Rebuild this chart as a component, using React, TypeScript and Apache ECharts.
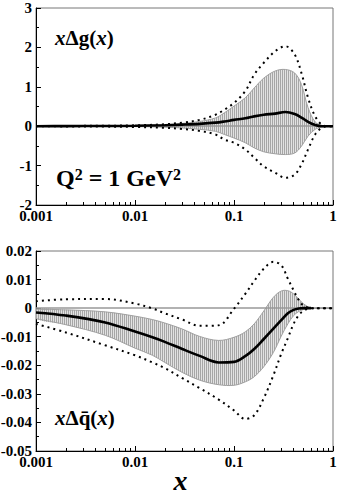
import React, { useEffect, useRef } from 'react';
import * as echarts from 'echarts';

// ---- axis ticks ----
const xTickLabels = ['0.001', '0.01', '0.1', '1'];
const xMinorTicks = [
  0.002, 0.003, 0.004, 0.005, 0.006, 0.007, 0.008, 0.009,
  0.02, 0.03, 0.04, 0.05, 0.06, 0.07, 0.08, 0.09,
  0.2, 0.3, 0.4, 0.5, 0.6, 0.7, 0.8, 0.9,
];

// ---- top panel: x Δg(x) ----
const gX = [0.001, 0.002, 0.005, 0.01, 0.02, 0.03, 0.045, 0.065, 0.08, 0.1, 0.13, 0.16, 0.2, 0.26, 0.33, 0.41, 0.48, 0.56, 0.66, 0.77, 0.9, 1];
const gCentral = [0, 0.002, 0.005, 0.01, 0.025, 0.04, 0.06, 0.09, 0.12, 0.16, 0.2, 0.25, 0.29, 0.32, 0.36, 0.31, 0.22, 0.11, 0.03, 0, 0, 0];
const gBandUp = [0.002, 0.004, 0.008, 0.015, 0.04, 0.07, 0.12, 0.21, 0.34, 0.51, 0.72, 0.97, 1.22, 1.4, 1.44, 1.35, 1.06, 0.47, 0.11, 0.02, 0, 0];
const gBandLo = [-0.002, -0.003, -0.006, -0.01, -0.025, -0.045, -0.08, -0.13, -0.21, -0.3, -0.42, -0.55, -0.65, -0.7, -0.72, -0.68, -0.51, -0.25, -0.08, -0.02, 0, 0];
const gDotUp = [0.003, 0.006, 0.012, 0.022, 0.05, 0.09, 0.16, 0.29, 0.42, 0.59, 0.89, 1.31, 1.61, 1.9, 2.03, 1.82, 1.35, 0.72, 0.25, 0.04, 0, 0];
const gDotLo = [-0.003, -0.005, -0.01, -0.02, -0.04, -0.07, -0.12, -0.21, -0.34, -0.42, -0.59, -0.8, -1.02, -1.18, -1.31, -1.23, -0.97, -0.59, -0.21, -0.04, 0, 0];

// ---- bottom panel: x Δq̄(x) ----
const qX = [0.001, 0.002, 0.005, 0.01, 0.015, 0.02, 0.03, 0.045, 0.07, 0.1, 0.13, 0.16, 0.2, 0.25, 0.3, 0.35, 0.4, 0.45, 0.5, 0.6, 0.7, 1];
const qCentral = [-0.0015, -0.0026, -0.005, -0.0082, -0.0102, -0.0118, -0.0143, -0.0167, -0.019, -0.0188, -0.0168, -0.0143, -0.0108, -0.0072, -0.0042, -0.0018, -0.0006, -0.0001, 0, 0, null, null];
const qBandUp = [-0.0004, -0.0006, -0.0013, -0.0028, -0.004, -0.0052, -0.0073, -0.0099, -0.0113, -0.0102, -0.0083, -0.0055, -0.001, 0.0038, 0.006, 0.0061, 0.005, 0.0032, 0.0016, 0, 0, 0];
const qBandLo = [-0.0037, -0.0058, -0.0095, -0.014, -0.0165, -0.019, -0.0225, -0.0252, -0.0268, -0.027, -0.0258, -0.024, -0.0205, -0.0155, -0.0098, -0.0055, -0.0026, -0.0012, -0.0005, 0, 0, 0];
const qDotUp = [0.0024, 0.0031, 0.0032, 0.0016, -0.0001, -0.0018, -0.004, -0.0062, -0.006, -0.0002, 0.005, 0.0095, 0.0138, 0.0162, 0.015, 0.0103, 0.0062, 0.0029, 0.001, 0, 0, 0];
const qDotLo = [-0.0055, -0.0085, -0.013, -0.0165, -0.019, -0.021, -0.0245, -0.028, -0.032, -0.0358, -0.0388, -0.0375, -0.0315, -0.0235, -0.016, -0.0105, -0.0055, -0.0025, -0.001, 0, 0, 0];

const FONT = "'Liberation Serif', 'Times New Roman', serif";
const SMOOTH = 0.35;

function makeHatch(): any {
  const c = document.createElement('canvas');
  c.width = 2;
  c.height = 2;
  const ctx = c.getContext('2d')!;
  ctx.fillStyle = '#e2e2e2';
  ctx.fillRect(0, 0, 2, 2);
  ctx.fillStyle = '#a6a6a6';
  ctx.fillRect(0, 0, 1, 2);
  return { image: c, repeat: 'repeat', imageWidth: 2, imageHeight: 2 };
}

function bandSeries(xs: number[], up: number[], lo: number[], idx: number, hatch: any) {
  return {
    type: 'custom',
    xAxisIndex: idx * 2,
    yAxisIndex: idx,
    clip: true,
    silent: true,
    z: 1,
    data: [[xs[1], lo[1]]],
    renderItem: (_params: any, api: any) => {
      const top = xs.map((x, i) => api.coord([x, up[i]]));
      const bot = xs.map((x, i) => api.coord([x, lo[i]]));
      const edge = { stroke: '#a0a0a0', lineWidth: 1, fill: null };
      return {
        type: 'group',
        children: [
          { type: 'polygon', shape: { points: top.concat(bot.slice().reverse()), smooth: SMOOTH }, style: { fill: hatch } },
          { type: 'polyline', shape: { points: top, smooth: SMOOTH }, style: edge },
          { type: 'polyline', shape: { points: bot, smooth: SMOOTH }, style: edge },
        ],
      };
    },
  };
}

function lineSeries(xs: number[], ys: (number | null)[], idx: number, dotted: boolean, zeroLine = false) {
  const s: any = {
    type: 'line',
    xAxisIndex: idx * 2,
    yAxisIndex: idx,
    data: xs.map((x, i) => [x, ys[i]]),
    showSymbol: false,
    smooth: SMOOTH,
    silent: true,
    z: dotted ? 4 : 5,
    lineStyle: dotted
      ? { color: '#000', width: 2, type: [2, 4], cap: 'butt' }
      : { color: '#000', width: 2.6 },
  };
  if (zeroLine) {
    s.markLine = {
      silent: true,
      symbol: ['none', 'none'],
      label: { show: false },
      z: 3,
      lineStyle: { color: '#999', width: 1.5, type: 'solid' },
      data: [{ yAxis: 0 }],
    };
  }
  return s;
}

const labelStyle = { fontFamily: FONT, fontWeight: 'bold', fontSize: 15, color: '#000' };

function xAxes(gridIndex: number, withName: boolean) {
  const main: any = {
    type: 'log',
    logBase: 10,
    gridIndex,
    min: 0.001,
    max: 1,
    position: 'bottom',
    axisLine: { show: true, onZero: false, lineStyle: { color: '#000', width: 1 } },
    axisTick: { show: true, inside: true, length: 5, lineStyle: { color: '#000' } },
    minorTick: { show: false },
    splitLine: { show: false },
    axisLabel: {
      ...labelStyle,
      margin: 3,
      formatter: (v: number) => xTickLabels[Math.round(Math.log10(v)) + 3],
    },
  };
  if (withName) {
    main.name = 'x';
    main.nameLocation = 'middle';
    main.nameGap = 15;
    main.nameMoveOverlap = false;
    main.nameTextStyle = {
      fontFamily: FONT, fontStyle: 'italic', fontWeight: 'bold', fontSize: 28,
      color: '#000', padding: [0, 8, 0, 0], lineHeight: 28, verticalAlign: 'top',
    };
  }
  const minor: any = {
    type: 'log',
    logBase: 10,
    gridIndex,
    min: 0.001,
    max: 1,
    position: 'bottom',
    axisLine: { show: false, onZero: false },
    axisTick: { show: true, inside: true, length: 3, customValues: xMinorTicks, lineStyle: { color: '#000' } },
    axisLabel: { show: false },
    splitLine: { show: false },
  };
  return [main, minor];
}

function yAxis(gridIndex: number, min: number, max: number, interval: number, fmt: (v: number) => string) {
  return {
    type: 'value',
    gridIndex,
    min,
    max,
    interval,
    axisLine: { show: true, onZero: false, lineStyle: { color: '#000', width: 1 } },
    axisTick: { show: true, inside: true, length: 5, lineStyle: { color: '#000' } },
    minorTick: { show: true, splitNumber: 2, length: 3, lineStyle: { color: '#000' } },
    splitLine: { show: false },
    axisLabel: { ...labelStyle, margin: 4, formatter: fmt },
  };
}

export default function App() {
  const ref = useRef<HTMLDivElement>(null);
  useEffect(() => {
    const chart = echarts.init(ref.current!, null, { renderer: 'svg' });
    const hatch = makeHatch();
    const richBase = { fontFamily: FONT, fontWeight: 'bold', fill: '#000' };
    const option: any = {
      animation: false,
      backgroundColor: '#fff',
      grid: [
        { left: 36, top: 8, width: 297, height: 197, show: true, borderColor: '#777', borderWidth: 1, containLabel: false, outerBoundsMode: 'none' },
        { left: 36, top: 251, width: 297, height: 200, show: true, borderColor: '#777', borderWidth: 1, containLabel: false, outerBoundsMode: 'none' },
      ],
      xAxis: [...xAxes(0, false), ...xAxes(1, true)],
      yAxis: [
        yAxis(0, -2, 3, 1, (v: number) => String(v)),
        yAxis(1, -0.05, 0.02, 0.01, (v: number) => String(+v.toFixed(2))),
      ],
      series: [
        bandSeries(gX, gBandUp, gBandLo, 0, hatch),
        lineSeries(gX, gDotUp, 0, true),
        lineSeries(gX, gDotLo, 0, true),
        lineSeries(gX, gCentral, 0, false, true),
        bandSeries(qX, qBandUp, qBandLo, 1, hatch),
        lineSeries(qX, qDotUp, 1, true),
        lineSeries(qX, qDotLo, 1, true),
        lineSeries(qX, qCentral, 1, false, true),
      ],
      graphic: [
        {
          type: 'text', x: 55, y: 27, z: 10,
          style: {
            text: '{i|x}{n|Δg(}{i|x}{n|)}',
            verticalAlign: 'top',
            rich: {
              i: { ...richBase, fontStyle: 'italic', fontSize: 21, lineHeight: 21 },
              n: { ...richBase, fontSize: 21, lineHeight: 21 },
            },
          },
        },
        {
          type: 'text', x: 56, y: 166, z: 10,
          style: {
            text: '{n|Q}{s|2}{n| = 1 GeV}{s|2}',
            verticalAlign: 'top',
            rich: {
              n: { ...richBase, fontSize: 24, lineHeight: 24 },
              s: { ...richBase, fontSize: 16, lineHeight: 11, verticalAlign: 'top' },
            },
          },
        },
        {
          type: 'text', x: 55, y: 407, z: 10,
          style: {
            text: '{i|x}{n|Δq\u0304(}{i|x}{n|)}',
            verticalAlign: 'top',
            rich: {
              i: { ...richBase, fontStyle: 'italic', fontSize: 21, lineHeight: 21 },
              n: { ...richBase, fontSize: 21, lineHeight: 21 },
            },
          },
        },
      ],
    };
    chart.setOption(option);
    return () => chart.dispose();
  }, []);
  return <div ref={ref} style={{ position: 'absolute', left: 0, top: 0, width: 338, height: 494 }} />;
}
